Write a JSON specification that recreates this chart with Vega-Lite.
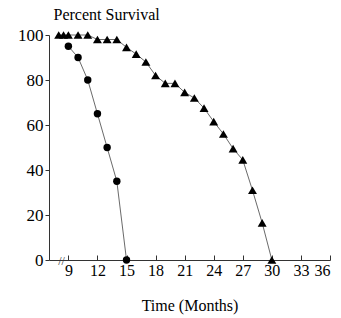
{
  "$schema": "https://vega.github.io/schema/vega-lite/v6.json",
  "width": 281,
  "height": 225,
  "autosize": "none",
  "padding": {"left": 49, "top": 35, "right": 11, "bottom": 58},
  "background": "white",
  "config": {"view": {"stroke": null}, "font": "Liberation Serif"},
  "datasets": {
    "circles": [
      {"month": 9, "survival": 95},
      {"month": 10, "survival": 90},
      {"month": 11, "survival": 80},
      {"month": 12, "survival": 65},
      {"month": 13, "survival": 50},
      {"month": 14, "survival": 35},
      {"month": 15, "survival": 0}
    ],
    "triangles": [
      {"month": 8, "survival": 100},
      {"month": 8.5, "survival": 100},
      {"month": 9, "survival": 100},
      {"month": 10, "survival": 100},
      {"month": 11, "survival": 100},
      {"month": 12, "survival": 98},
      {"month": 13, "survival": 98},
      {"month": 14, "survival": 98},
      {"month": 15, "survival": 94.5},
      {"month": 16, "survival": 91.5},
      {"month": 17, "survival": 88},
      {"month": 18, "survival": 82},
      {"month": 19, "survival": 78.5},
      {"month": 20, "survival": 78.5},
      {"month": 21, "survival": 74.5},
      {"month": 22, "survival": 72},
      {"month": 23, "survival": 67.5},
      {"month": 24, "survival": 61.5},
      {"month": 25, "survival": 56},
      {"month": 26, "survival": 49.5},
      {"month": 27, "survival": 44.5},
      {"month": 28, "survival": 31},
      {"month": 29, "survival": 16.5},
      {"month": 30, "survival": 0}
    ],
    "brk": [{"month": 8.3, "survival": 0, "t": "//"}]
  },
  "encoding": {
    "x": {
      "field": "month", "type": "quantitative",
      "scale": {"domain": [7, 36], "nice": false, "zero": false},
      "axis": {
        "values": [9, 12, 15, 18, 21, 24, 27, 30, 33, 36],
        "title": "Time (Months)", "titleFont": "Liberation Serif", "titleFontSize": 16, "titleFontWeight": "normal",
        "titlePadding": 19, "titleColor": "black",
        "labelFont": "Liberation Serif", "labelFontSize": 16, "labelColor": "black", "labelPadding": 7,
        "tickSize": -5, "tickColor": "#333", "domainColor": "#333", "grid": false
      }
    },
    "y": {
      "field": "survival", "type": "quantitative",
      "scale": {"domain": [0, 100], "nice": false},
      "axis": {
        "values": [0, 20, 40, 60, 80, 100],
        "title": "Percent Survival", "titleAngle": 0, "titleAlign": "left", "titleBaseline": "alphabetic",
        "titleX": 4, "titleY": -16, "titleFont": "Liberation Serif", "titleFontSize": 16, "titleFontWeight": "normal", "titleColor": "black",
        "labelFont": "Liberation Serif", "labelFontSize": 17, "labelColor": "black", "labelPadding": 2,
        "tickSize": 4, "tickColor": "#333", "domainColor": "#333", "grid": false
      }
    }
  },
  "layer": [
    {"data": {"name": "circles"}, "mark": {"type": "line", "color": "#444", "strokeWidth": 0.8}},
    {"data": {"name": "circles"}, "mark": {"type": "point", "shape": "circle", "filled": true, "color": "black", "opacity": 1, "size": 55}},
    {"data": {"name": "triangles"}, "mark": {"type": "line", "color": "#444", "strokeWidth": 0.8}},
    {"data": {"name": "triangles"}, "mark": {"type": "point", "shape": "triangle-up", "filled": true, "color": "black", "opacity": 1, "size": 80}},
    {"data": {"name": "brk"}, "mark": {"type": "text", "fontSize": 12, "color": "#333", "font": "Liberation Serif", "baseline": "middle", "dy": 1}, "encoding": {"text": {"field": "t"}}}
  ]
}
